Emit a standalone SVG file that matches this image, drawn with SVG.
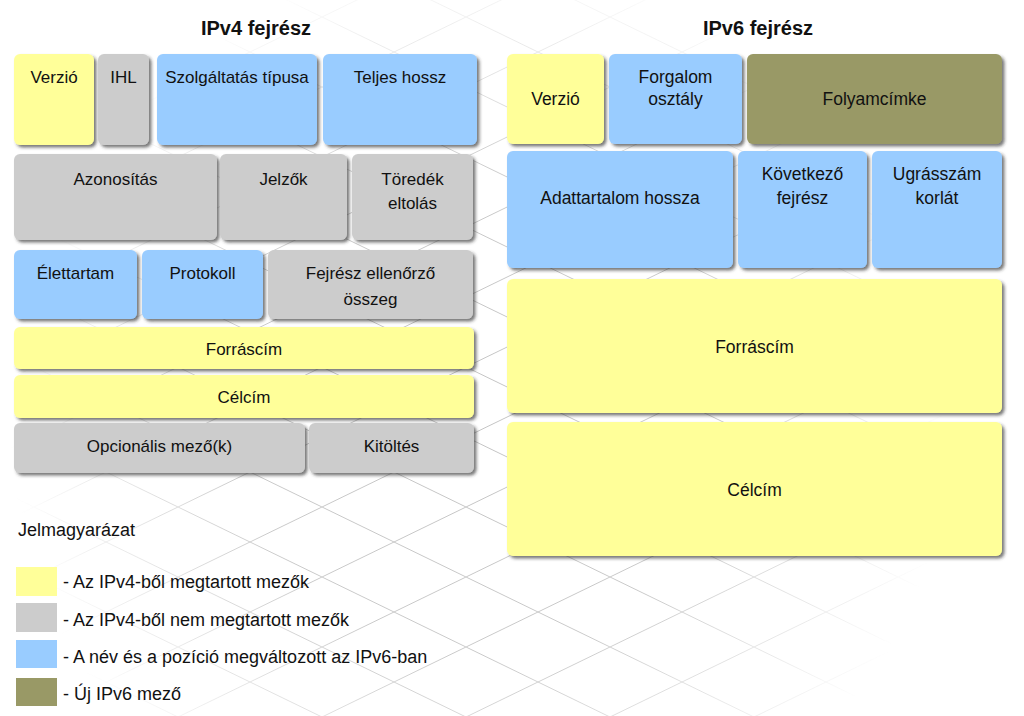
<svg xmlns="http://www.w3.org/2000/svg" width="1024" height="716" viewBox="0 0 1024 716">
<style>
text{font-family:"Liberation Sans",Arial,sans-serif;fill:#111;}
.t{font-size:17px;text-anchor:middle;}
.t6{font-size:17.5px;text-anchor:middle;}
.h{font-size:20px;font-weight:bold;text-anchor:middle;}
.l{font-size:18px;}
.y{fill:#ffff99;}
.g{fill:#cccccc;}
.b{fill:#99ccff;}
.o{fill:#999966;}
.box{filter:url(#sh);}
</style>
<defs>
<filter id="sh" x="-10%" y="-10%" width="130%" height="140%">
<feDropShadow dx="2.5" dy="2.5" stdDeviation="1.6" flood-color="#333" flood-opacity="0.65"/>
</filter>
<pattern id="grid" patternUnits="userSpaceOnUse" x="34" y="17" width="144" height="70">
<path d="M0 0 L144 70 M0 70 L144 0" stroke="#c4c4c4" stroke-width="1" fill="none"/>
</pattern>
<radialGradient id="fade" gradientUnits="userSpaceOnUse" cx="480" cy="420" r="470">
<stop offset="0" stop-color="#fff" stop-opacity="1"/>
<stop offset="0.5" stop-color="#fff" stop-opacity="0.9"/>
<stop offset="1" stop-color="#fff" stop-opacity="0"/>
</radialGradient>
<mask id="m"><rect width="1024" height="716" fill="url(#fade)"/></mask>
</defs>
<rect width="1024" height="716" fill="#fff"/>
<g id="background-grid" mask="url(#m)"><rect width="1024" height="716" fill="url(#grid)"/></g>

<g id="titles">
<text class="h" x="256" y="35">IPv4 fejrész</text>
<text class="h" x="758" y="35">IPv6 fejrész</text>
</g>

<g id="ipv4">
<g id="v4-verzio"><rect class="box y" x="14" y="54" width="80" height="91" rx="6"/><text class="t" x="54" y="83">Verzió</text></g>
<g id="v4-ihl"><rect class="box g" x="98" y="54" width="51" height="91" rx="6"/><text class="t" x="123.5" y="83">IHL</text></g>
<g id="v4-szolg"><rect class="box b" x="157" y="54" width="160" height="91" rx="6"/><text class="t" x="237" y="83">Szolgáltatás típusa</text></g>
<g id="v4-teljes"><rect class="box b" x="323" y="54" width="154" height="91" rx="6"/><text class="t" x="400" y="83">Teljes hossz</text></g>
<g id="v4-azon"><rect class="box g" x="14" y="154" width="203" height="86" rx="6"/><text class="t" x="115.5" y="185">Azonosítás</text></g>
<g id="v4-jelzok"><rect class="box g" x="220" y="154" width="127" height="86" rx="6"/><text class="t" x="283.5" y="185">Jelzők</text></g>
<g id="v4-toredek"><rect class="box g" x="352" y="154" width="121" height="86" rx="6"/><text class="t" x="412.5" y="185">Töredék</text><text class="t" x="412.5" y="209">eltolás</text></g>
<g id="v4-elet"><rect class="box b" x="14" y="250" width="123" height="69" rx="6"/><text class="t" x="75.5" y="279">Élettartam</text></g>
<g id="v4-prot"><rect class="box b" x="142" y="250" width="121" height="69" rx="6"/><text class="t" x="202.5" y="279">Protokoll</text></g>
<g id="v4-chk"><rect class="box g" x="268" y="250" width="205" height="69" rx="6"/><text class="t" x="370.5" y="279">Fejrész ellenőrző</text><text class="t" x="370.5" y="305">összeg</text></g>
<g id="v4-forras"><rect class="box y" x="14" y="327" width="460" height="42" rx="6"/><text class="t" x="244" y="355">Forráscím</text></g>
<g id="v4-cel"><rect class="box y" x="14" y="375" width="460" height="43" rx="6"/><text class="t" x="244" y="403">Célcím</text></g>
<g id="v4-opc"><rect class="box g" x="14" y="423" width="291" height="50" rx="6"/><text class="t" x="159.5" y="452">Opcionális mező(k)</text></g>
<g id="v4-kitoltes"><rect class="box g" x="309" y="423" width="165" height="50" rx="6"/><text class="t" x="391.5" y="452">Kitöltés</text></g>
</g>

<g id="ipv6">
<g id="v6-verzio"><rect class="box y" x="507" y="54" width="97" height="90" rx="6"/><text class="t6" x="555.5" y="105">Verzió</text></g>
<g id="v6-forgalom"><rect class="box b" x="609" y="54" width="133" height="90" rx="6"/><text class="t6" x="675.5" y="83">Forgalom</text><text class="t6" x="675.5" y="105">osztály</text></g>
<g id="v6-folyam"><rect class="box o" x="747" y="54" width="255" height="90" rx="6"/><text class="t6" x="874.5" y="105">Folyamcímke</text></g>
<g id="v6-adat"><rect class="box b" x="507" y="151" width="226" height="117" rx="6"/><text class="t6" x="620" y="204">Adattartalom hossza</text></g>
<g id="v6-kov"><rect class="box b" x="738" y="151" width="129" height="117" rx="6"/><text class="t6" x="802.5" y="180">Következő</text><text class="t6" x="802.5" y="204">fejrész</text></g>
<g id="v6-ugras"><rect class="box b" x="872" y="151" width="130" height="117" rx="6"/><text class="t6" x="937" y="180">Ugrásszám</text><text class="t6" x="937" y="204">korlát</text></g>
<g id="v6-forras"><rect class="box y" x="507" y="279" width="495" height="134" rx="6"/><text class="t6" x="754.5" y="353">Forráscím</text></g>
<g id="v6-cel"><rect class="box y" x="507" y="422" width="495" height="134" rx="6"/><text class="t6" x="754.5" y="496">Célcím</text></g>
</g>

<g id="legend">
<text class="l" x="18" y="536">Jelmagyarázat</text>
<g id="legend-yellow"><rect class="y" x="16" y="567" width="41" height="29"/><text class="l" x="63" y="588">- Az IPv4-ből megtartott mezők</text></g>
<g id="legend-gray"><rect class="g" x="16" y="603" width="41" height="29"/><text class="l" x="63" y="626">- Az IPv4-ből nem megtartott mezők</text></g>
<g id="legend-blue"><rect class="b" x="16" y="640" width="41" height="28"/><text class="l" x="63" y="663">- A név és a pozíció megváltozott az IPv6-ban</text></g>
<g id="legend-olive"><rect class="o" x="16" y="678" width="41" height="28"/><text class="l" x="63" y="700">- Új IPv6 mező</text></g>
</g>
</svg>
